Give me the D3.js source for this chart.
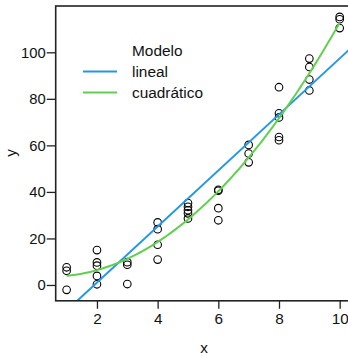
<!DOCTYPE html>
<html>
<head>
<meta charset="utf-8">
<script src="https://cdn.jsdelivr.net/npm/d3@7"></script>
<style>
  body { margin: 0; background: #fff; }
  svg { display: block; font-family: "Liberation Sans", Arial, sans-serif; }
</style>
</head>
<body>
<div id="chart"></div>
<script>
// observed points (x repeated per observation)
const xs = [1,1,1, 2,2,2,2,2, 3,3,3, 4,4,4,4, 5,5,5,5,5, 6,6,6,6, 7,7,7, 8,8,8,8,8, 9,9,9,9, 10,10,10];
const ys = [7.6,6.1,-2.1, 15,9.7,8.3,3.9,0.3, 9.8,8.7,0.4, 26.9,24,17.3,10.9,
            35.2,33.6,32.1,30.8,28.6, 40.9,40.5,33,27.8, 60.2,56.5,52.7,
            85,73.8,72,63.6,62.2, 97.3,93.7,88.3,83.6, 115.2,114.2,110.4];
const xTicks = [2, 4, 6, 8, 10];
const yTicks = [0, 20, 40, 60, 80, 100];
const legendTitle = "Modelo";
const modelNames = ["lineal", "cuadrático"];
const modelColors = ["#2297E6", "#61D04F"];

const width = 348, height = 356;
const svg = d3.select("#chart").append("svg")
  .attr("width", width).attr("height", height);

const x = d3.scaleLinear().domain([0.64, 10.36]).range([55.7, 350.6]);
const y = d3.scaleLinear().domain([-6.8, 119.9]).range([300.8, 6]);

// least squares fits
const n = xs.length;
function fitLinear() {
  const mx = d3.mean(xs), my = d3.mean(ys);
  let sxy = 0, sxx = 0;
  for (let i = 0; i < n; i++) { sxy += (xs[i]-mx)*(ys[i]-my); sxx += (xs[i]-mx)**2; }
  const b = sxy / sxx;
  return [my - b*mx, b];
}
function fitQuad() {
  // normal equations
  const S = k => d3.sum(xs, v => v**k);
  const T = k => d3.sum(xs, (v, i) => v**k * ys[i]);
  const A = [[S(0),S(1),S(2)],[S(1),S(2),S(3)],[S(2),S(3),S(4)]];
  const B = [T(0),T(1),T(2)];
  // gaussian elimination
  for (let c = 0; c < 3; c++) {
    for (let r = c+1; r < 3; r++) {
      const f = A[r][c] / A[c][c];
      for (let k = c; k < 3; k++) A[r][k] -= f*A[c][k];
      B[r] -= f*B[c];
    }
  }
  const sol = [0,0,0];
  for (let r = 2; r >= 0; r--) {
    let s = B[r];
    for (let k = r+1; k < 3; k++) s -= A[r][k]*sol[k];
    sol[r] = s / A[r][r];
  }
  return sol;
}
const lin = fitLinear();
const quad = fitQuad();

svg.append("clipPath").attr("id", "plotclip")
  .append("rect").attr("x", x.range()[0]).attr("y", y.range()[1])
  .attr("width", x.range()[1]-x.range()[0]).attr("height", y.range()[0]-y.range()[1]);

const plot = svg.append("g").attr("clip-path", "url(#plotclip)");

// points
plot.selectAll("circle.pt")
  .data(xs.map((v, i) => [v, ys[i]]))
  .enter().append("circle")
  .attr("class", "pt")
  .attr("cx", d => x(d[0]))
  .attr("cy", d => y(d[1]))
  .attr("r", 3.8)
  .attr("fill", "none")
  .attr("stroke", "#000")
  .attr("stroke-width", 1.1);

// linear model across full range
const xd = x.domain();
plot.append("path")
  .datum(xd)
  .attr("fill", "none")
  .attr("stroke", modelColors[0])
  .attr("stroke-width", 2)
  .attr("d", d3.line().x(d => x(d)).y(d => y(lin[0] + lin[1]*d)));

// quadratic model over data range
const qx = d3.range(1, 10.001, 0.1);
plot.append("path")
  .datum(qx)
  .attr("fill", "none")
  .attr("stroke", modelColors[1])
  .attr("stroke-width", 2)
  .attr("d", d3.line().x(d => x(d)).y(d => y(quad[0] + quad[1]*d + quad[2]*d*d)));

// box
svg.append("rect")
  .attr("x", x.range()[0]).attr("y", y.range()[1])
  .attr("width", x.range()[1]-x.range()[0]).attr("height", y.range()[0]-y.range()[1])
  .attr("fill", "none").attr("stroke", "#222").attr("stroke-width", 1.6);

// axes
const gx = svg.append("g")
  .attr("transform", `translate(0,${y.range()[0]})`)
  .call(d3.axisBottom(x).tickValues(xTicks).tickSize(8).tickPadding(4).tickSizeOuter(0));
const gy = svg.append("g")
  .attr("transform", `translate(${x.range()[0]},0)`)
  .call(d3.axisLeft(y).tickValues(yTicks).tickSize(9).tickPadding(1).tickSizeOuter(0));
[gx, gy].forEach(g => {
  g.select(".domain").remove();
  g.selectAll(".tick line").attr("stroke", "#222").attr("stroke-width", 1.3);
  g.selectAll(".tick text").attr("fill", "#111")
    .style("font-family", "'Liberation Sans', Arial, sans-serif");
});
gx.selectAll(".tick text").style("font-size", "15.3px");
gy.selectAll(".tick text").style("font-size", "14.8px");

// axis titles
svg.append("text").attr("x", 204).attr("y", 353)
  .attr("text-anchor", "middle").style("font-size", "15.3px").attr("fill", "#111").text("x");
svg.append("text").attr("transform", "translate(16,153) rotate(-90)")
  .attr("text-anchor", "middle").style("font-size", "15.3px").attr("fill", "#111").text("y");

// legend
const leg = svg.append("g");
leg.append("text").attr("x", 132).attr("y", 56)
  .style("font-size", "15.4px").attr("fill", "#111").text(legendTitle);
modelNames.forEach((name, i) => {
  const yy = 71.5 + i*21;
  leg.append("line").attr("x1", 83).attr("x2", 117).attr("y1", yy).attr("y2", yy)
    .attr("stroke", modelColors[i]).attr("stroke-width", 2);
  leg.append("text").attr("x", 132).attr("y", yy + 5.5)
    .style("font-size", "15.4px").attr("fill", "#111").text(name);
});
</script>
</body>
</html>
